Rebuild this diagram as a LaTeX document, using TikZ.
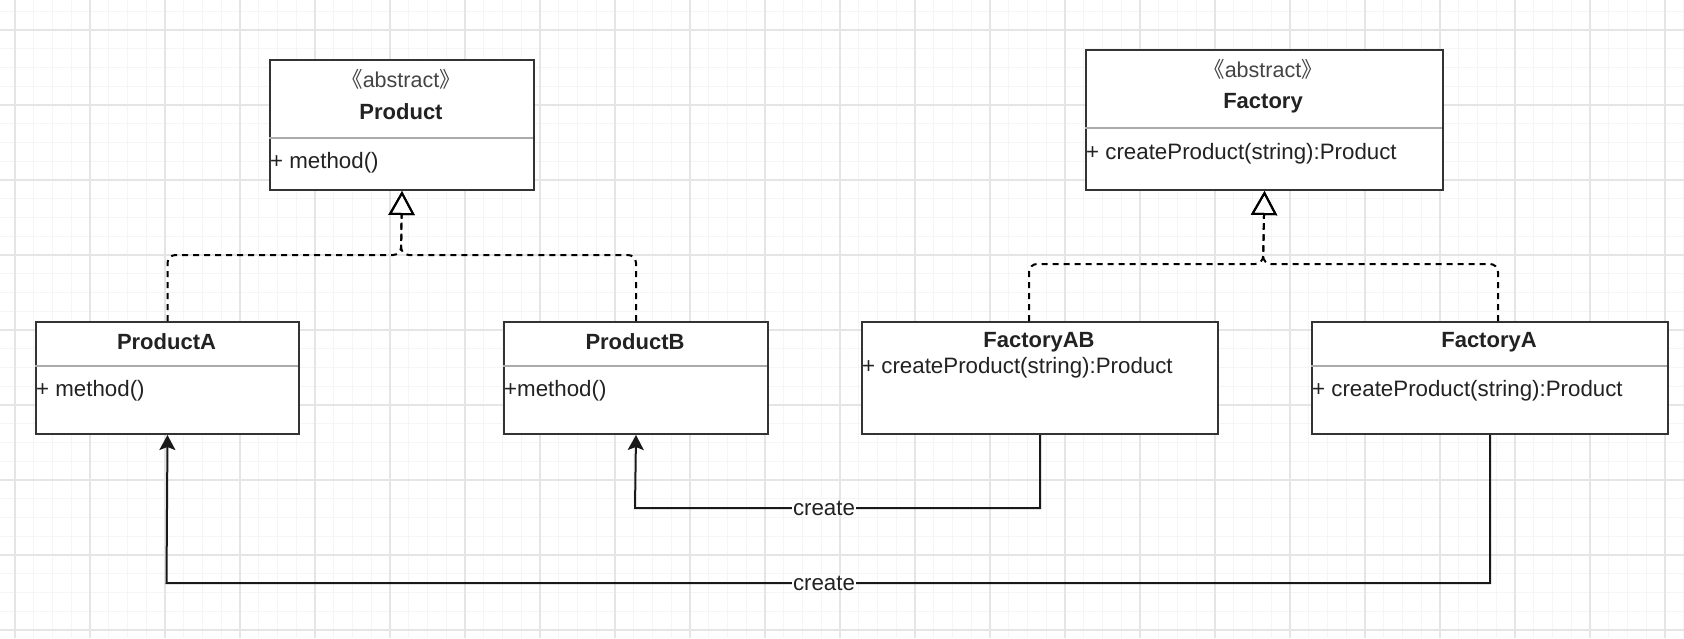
\documentclass[tikz,border=0pt]{standalone}
\usepackage{fontspec}
\setmainfont{Liberation Sans}
\newfontfamily\cjk{Noto Sans CJK SC}
\usetikzlibrary{arrows.meta}
\definecolor{boxline}{HTML}{333333}
\definecolor{txt}{HTML}{222222}
\definecolor{stereo}{HTML}{444444}
\definecolor{divider}{HTML}{AAAAAA}
\tikzset{
  umlbox/.style={draw=boxline, line width=2pt, fill=white, rectangle, anchor=north west, inner sep=0pt},
  divline/.style={draw=divider, line width=1.5pt},
  title/.style={font=\fontsize{22}{26}\selectfont\bfseries, text=txt, inner sep=0pt},
  stereotype/.style={font=\fontsize{21.5}{26}\selectfont, text=stereo, inner sep=0pt},
  member/.style={font=\fontsize{22.3}{26}\selectfont, text=txt, inner sep=0pt, anchor=west},
  inh/.style={draw=black, line width=2pt, dash pattern=on 6pt off 5pt, rounded corners=8pt,
    -{Triangle[open, length=24pt, width=26pt, line width=2pt]}},
  assoc/.style={draw=black!90, line width=2pt, {Stealth[length=15pt, width=16pt, inset=3pt]}-},
  lbl/.style={font=\fontsize{22.3}{26}\selectfont, text=txt, fill=white, inner sep=1pt},
  gridmajor/.style={draw=black!10, line width=1.2pt},
  gridminor/.style={draw=black!4, line width=0.8pt}
}
\begin{document}
\begin{tikzpicture}[x=1pt, y=-1pt]
\useasboundingbox (0,0) rectangle (1684,638);
\fill[white] (0,0) rectangle (1684,638);
% grid
\foreach \gx in {-3.75,15,...,1684} {\draw[gridminor] (\gx,0) -- (\gx,638);}
\foreach \gy in {11.25,30,...,638} {\draw[gridminor] (0,\gy) -- (1684,\gy);}
\foreach \gx in {15,90,...,1680} {\draw[gridmajor] (\gx,0) -- (\gx,638);}
\foreach \gy in {30,105,...,635} {\draw[gridmajor] (0,\gy) -- (1684,\gy);}

% Product
\node[umlbox, minimum width=264pt, minimum height=130pt] (prod) at (269,59) {};
\draw[divline] (269,138) -- (533,138);
\node[stereotype] (prodst) at (401,79) {{\cjk 《}abstract{\cjk 》}};
\node[title] (prodt) at (401,112) {Product};
\node[member] (prodm) at (270,163) {+ method()};

% Factory
\node[umlbox, minimum width=357pt, minimum height=140pt] (fac) at (1085,49) {};
\draw[divline] (1085,128) -- (1442,128);
\node[stereotype] (facst) at (1263,69) {{\cjk 《}abstract{\cjk 》}};
\node[title] (fact) at (1263,103) {Factory};
\node[member] (facm) at (1086,154) {+ createProduct(string):Product};

% ProductA
\node[umlbox, minimum width=263pt, minimum height=112pt] (pa) at (35,321) {};
\draw[divline] (35,366) -- (298,366);
\node[title] (pat) at (166.5,342) {ProductA};
\node[member] (pam) at (36,391) {+ method()};

% ProductB
\node[umlbox, minimum width=264pt, minimum height=112pt] (pb) at (503,321) {};
\draw[divline] (503,366) -- (767,366);
\node[title] (pbt) at (635,342) {ProductB};
\node[member] (pbm) at (504,391) {+method()};

% FactoryAB
\node[umlbox, minimum width=356pt, minimum height=112pt] (fab) at (861,321) {};
\node[title] (fabt) at (1039,342) {FactoryAB};
\node[member] (fabm) at (862,368) {+ createProduct(string):Product};

% FactoryA
\node[umlbox, minimum width=356pt, minimum height=112pt] (fa) at (1311,321) {};
\draw[divline] (1311,366) -- (1667,366);
\node[title] (fat) at (1489,342) {FactoryA};
\node[member] (fam) at (1312,391) {+ createProduct(string):Product};

% inheritance connectors
\coordinate (pj) at (401,255);
\coordinate (fj) at (1263,264);
\coordinate (fabtop) at (1029,321);
\coordinate (fatop) at (1498,321);
\draw[inh] (pa.north) |- (pj) -- (prod.south);
\draw[inh] (pb.north) |- (pj) -- (prod.south);
\draw[inh] (fabtop) |- (fj) -- (fac.south);
\draw[inh] (fatop) |- (fj) -- (fac.south);

% create connectors
\coordinate (c1) at (635,508);
\coordinate (c2) at (166.5,583);
\draw[assoc] (pb.south) -- (c1) -| (fab.south);
\draw[assoc] (pa.south) -- (c2) -| (fa.south);
\node[lbl] (l1) at (824,508) {create};
\node[lbl] (l2) at (824,583) {create};
\end{tikzpicture}
\end{document}
